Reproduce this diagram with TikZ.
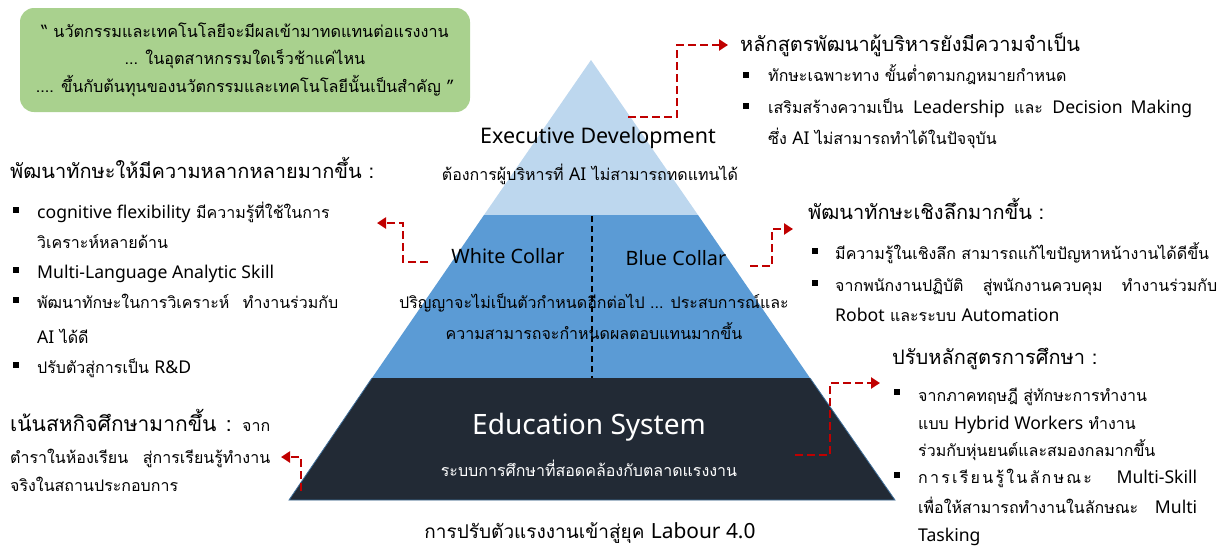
\documentclass[tikz,border=0pt]{standalone}
\usepackage{fontspec}
\setmainfont{Loma}[Script=Thai]
\newfontfamily\latf{Noto Sans}[Scale=1.1]
\newcommand\lt[1]{{\latf #1}}
\usetikzlibrary{arrows.meta}
\definecolor{qgreen}{HTML}{A9D18E}
\definecolor{tierA}{HTML}{BDD7EE}
\definecolor{tierB}{HTML}{5B9BD5}
\definecolor{tierC}{HTML}{222A35}
\definecolor{edgeC}{HTML}{41719C}
\definecolor{arrred}{HTML}{C00000}
\tikzset{
  txt/.style={anchor=base west,inner sep=0pt,font=\fontsize{16}{18}\selectfont},
  head/.style={anchor=base west,inner sep=0pt,font=\fontsize{20}{22}\selectfont},
  ctr/.style={anchor=base,inner sep=0pt,font=\fontsize{16}{18}\selectfont},
  bul/.style={fill=black,inner sep=0pt,minimum size=6.5pt},
  rdash/.style={draw=arrred,line width=2.8pt,dash pattern=on 8pt off 4pt,-{Triangle[length=9pt,width=11pt]}},
}
\begin{document}
\begin{tikzpicture}[x=1pt,y=-1pt]
\useasboundingbox (0,0) rectangle (1225,547);
% pyramid
\coordinate (apex) at (591,60);
\coordinate (bl) at (289,500);
\coordinate (br) at (895,500);
\fill[tierA] (apex) -- (698,215) -- (484,215) -- cycle;
\fill[tierB] (484,215) -- (698,215) -- (810,378) -- (372,378) -- cycle;
\fill[tierC] (372,378) -- (810,378) -- (br) -- (bl) -- cycle;
\draw[edgeC,line width=0.8pt] (372,378) -- (bl) -- (br) -- (810,378);
\draw[black,line width=1.6pt,dash pattern=on 6pt off 4pt] (592,216) -- (592,378);
% quote box
\node[fill=qgreen,rounded corners=14pt,minimum width=450pt,minimum height=104pt,inner sep=0pt] (quote) at (245,60) {};
\node[ctr,font=\fontsize{16.2}{18}\selectfont] (q1) at (245,37) {“ นวัตกรรมและเทคโนโลยีจะมีผลเข้ามาทดแทนต่อแรงงาน};
\node[ctr,font=\fontsize{16.2}{18}\selectfont] (q2) at (245,64) {... ในอุตสาหกรรมใดเร็วช้าแค่ไหน};
\node[ctr,font=\fontsize{16.2}{18}\selectfont] (q3) at (245,92) {.... ขึ้นกับต้นทุนของนวัตกรรมและเทคโนโลยีนั้นเป็นสำคัญ ”};
% pyramid texts
\node[ctr,font=\fontsize{19.5}{21}\selectfont] (exec) at (598,143) {\lt{Executive Development}};
\node[ctr] (execs) at (590,180) {ต้องการผู้บริหารที่ \lt{AI} ไม่สามารถทดแทนได้};
\node[ctr,font=\fontsize{18}{20}\selectfont] (white) at (508,263) {\lt{White Collar}};
\node[ctr,font=\fontsize{18}{20}\selectfont] (blue) at (676,265) {\lt{Blue Collar}};
\node[ctr] (deg1) at (594,308) {ปริญญาจะไม่เป็นตัวกำหนดอีกต่อไป ... ประสบการณ์และ};
\node[ctr] (deg2) at (594,339) {ความสามารถจะกำหนดผลตอบแทนมากขึ้น};
\node[ctr,font=\fontsize{25.5}{27}\selectfont,text=white] (edu) at (589,434) {\lt{Education System}};
\node[ctr,text=white] (edus) at (589,476) {ระบบการศึกษาที่สอดคล้องกับตลาดแรงงาน};
\node[ctr,font=\fontsize{19}{21}\selectfont] (title) at (590,538) {การปรับตัวแรงงานเข้าสู่ยุค \lt{Labour 4.0}};
% top right
\node[head] (h1) at (740,51) {หลักสูตรพัฒนาผู้บริหารยังมีความจำเป็น};
\node[bul] (b11) at (746,75) {};
\node[txt] (t11) at (768,81) {ทักษะเฉพาะทาง ขั้นต่ำตามกฎหมายกำหนด};
\node[bul] (b12) at (746,106) {};
\node[txt] (t12) at (768,113) {\makebox[424pt][s]{เสริมสร้างความเป็น \lt{Leadership} และ \lt{Decision Making}}};
\node[txt] (t13) at (768,144) {ซึ่ง \lt{AI} ไม่สามารถทำได้ในปัจจุบัน};
% left
\node[head] (h2) at (10,178) {พัฒนาทักษะให้มีความหลากหลายมากขึ้น :};
\node[bul] (b21) at (16,210) {};
\node[txt] (t21) at (37,218) {\lt{cognitive flexibility} มีความรู้ที่ใช้ในการ};
\node[txt] (t22) at (37,248) {วิเคราะห์หลายด้าน};
\node[bul] (b23) at (16,270) {};
\node[txt] (t23) at (37,278) {\lt{Multi-Language Analytic Skill}};
\node[bul] (b24) at (16,300) {};
\node[txt] (t24) at (37,308) {\makebox[301pt][s]{พัฒนาทักษะในการวิเคราะห์ ทำงานร่วมกับ}};
\node[txt] (t25) at (37,343) {\lt{AI} ได้ดี};
\node[bul] (b26) at (16,365) {};
\node[txt] (t26) at (37,373) {ปรับตัวสู่การเป็น \lt{R\&D}};
% left bottom
\node[txt] (h3) at (10,431) {\makebox[260pt][s]{{\fontsize{21}{22}\selectfont เน้นสหกิจศึกษามากขึ้น :} จาก}};
\node[txt] (t31) at (10,463) {\makebox[260pt][s]{ตำราในห้องเรียน สู่การเรียนรู้ทำงาน}};
\node[txt] (t32) at (10,491) {จริงในสถานประกอบการ};
% right middle
\node[head] (h4) at (808,219) {พัฒนาทักษะเชิงลึกมากขึ้น :};
\node[bul] (b41) at (815,251) {};
\node[txt] (t41) at (835,259) {มีความรู้ในเชิงลึก สามารถแก้ไขปัญหาหน้างานได้ดีขึ้น};
\node[bul] (b42) at (815,283) {};
\node[txt] (t42) at (835,291) {\makebox[382pt][s]{จากพนักงานปฏิบัติ สู่พนักงานควบคุม ทำงานร่วมกับ}};
\node[txt] (t43) at (835,321) {\lt{Robot} และระบบ \lt{Automation}};
\node[head] (h5) at (892,364) {ปรับหลักสูตรการศึกษา :};
% right bottom
\node[bul] (b51) at (897,392) {};
\node[txt] (t51) at (918,401) {จากภาคทฤษฎี สู่ทักษะการทำงาน};
\node[txt] (t52) at (918,429) {แบบ \lt{Hybrid Workers} ทำงาน};
\node[txt] (t53) at (918,456) {ร่วมกับหุ่นยนต์และสมองกลมากขึ้น};
\node[bul] (b54) at (897,475) {};
\node[txt] (t54) at (918,483) {\makebox[279pt][s]{{\addfontfeature{LetterSpace=14}การเรียนรู้ในลักษณะ} \lt{Multi-Skill}}};
\node[txt] (t55) at (918,513) {\makebox[279pt][s]{เพื่อให้สามารถทำงานในลักษณะ \lt{Multi}}};
\node[txt] (t56) at (918,541) {\lt{Tasking}};
% arrows
\coordinate (a1s) at (628,117); \coordinate (a1e) at (728,45);
\draw[rdash] (a1s) -- (677,117) |- (a1e);
\coordinate (a2s) at (428,262); \coordinate (a2e) at (377,223);
\draw[rdash] (a2s) -- (403,262) |- (a2e);
\coordinate (a3s) at (750,266); \coordinate (a3e) at (793,229);
\draw[rdash] (a3s) -- (772,266) |- (a3e);
\coordinate (a4s) at (795,455); \coordinate (a4e) at (880,383);
\draw[rdash] (a4s) -- (830,455) |- (a4e);
\coordinate (a5s) at (301,491); \coordinate (a5e) at (281,457);
\draw[rdash] (a5s) |- (a5e);
\end{tikzpicture}
\end{document}
